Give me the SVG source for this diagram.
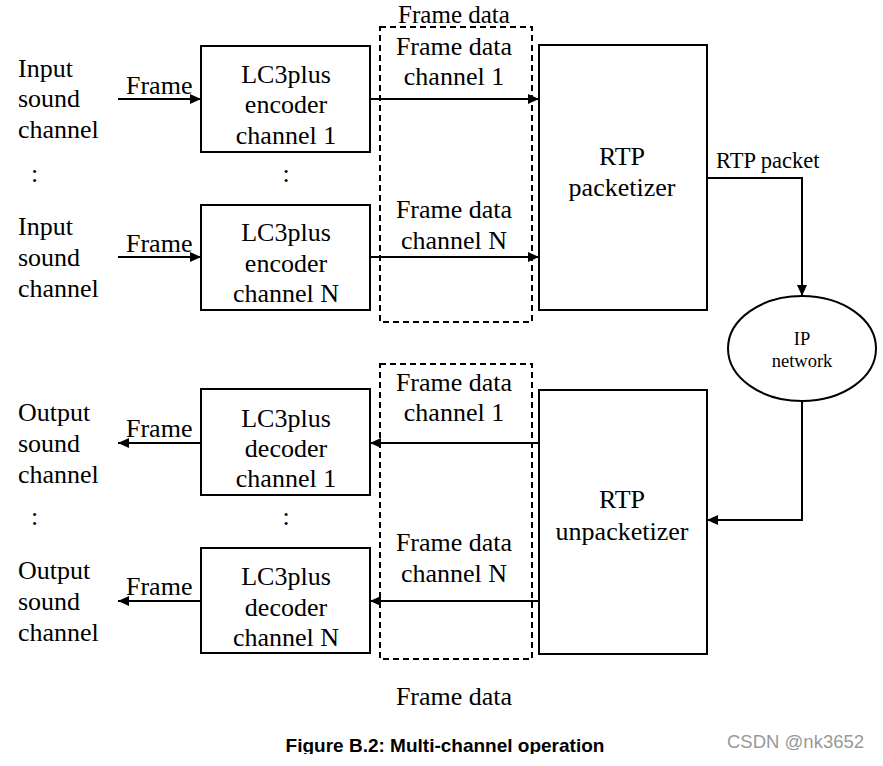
<svg xmlns="http://www.w3.org/2000/svg" width="883" height="766" viewBox="0 0 883 766">
<style>
.t{font-family:"Liberation Serif","Times New Roman",serif;font-size:26px;fill:#000}
.m{text-anchor:middle}
.box{fill:none;stroke:#000;stroke-width:2}
.dash{fill:none;stroke:#000;stroke-width:2;stroke-dasharray:6,4}
.ln{fill:none;stroke:#000;stroke-width:2}
.cap{font-family:"Liberation Sans",Arial,sans-serif;font-size:19px;font-weight:bold;fill:#000}
.wm{font-family:"Liberation Sans",Arial,sans-serif;font-size:18.5px;fill:#999}
</style>
<defs>
<marker id="ah" markerUnits="userSpaceOnUse" markerWidth="12" markerHeight="10" refX="11" refY="5" orient="auto">
<path d="M0,0 L11,5 L0,10 z" fill="#000"/>
</marker>
<clipPath id="capclip"><rect x="0" y="0" width="883" height="754"/></clipPath>
</defs>
<rect width="883" height="766" fill="#fff"/>

<g id="labels-left">
<text class="t" x="18" y="77">Input</text>
<text class="t" x="18" y="107">sound</text>
<text class="t" x="18" y="138">channel</text>
<text class="t" x="31" y="182">:</text>
<text class="t" x="18" y="235">Input</text>
<text class="t" x="18" y="266">sound</text>
<text class="t" x="18" y="297">channel</text>
<text class="t" x="18" y="421">Output</text>
<text class="t" x="18" y="452">sound</text>
<text class="t" x="18" y="483">channel</text>
<text class="t" x="31" y="525">:</text>
<text class="t" x="18" y="579">Output</text>
<text class="t" x="18" y="610">sound</text>
<text class="t" x="18" y="641">channel</text>
<text class="t m" x="286" y="182">:</text>
<text class="t m" x="286" y="525">:</text>
</g>

<g id="enc1">
<rect class="box" x="201" y="46" width="169" height="106"/>
<text class="t m" x="286" y="83">LC3plus</text>
<text class="t m" x="286" y="113">encoder</text>
<text class="t m" x="286" y="144">channel 1</text>
</g>
<g id="encN">
<rect class="box" x="201" y="205" width="169" height="105"/>
<text class="t m" x="286" y="241">LC3plus</text>
<text class="t m" x="286" y="272">encoder</text>
<text class="t m" x="286" y="302">channel N</text>
</g>
<g id="dec1">
<rect class="box" x="201" y="389" width="169" height="106"/>
<text class="t m" x="286" y="427">LC3plus</text>
<text class="t m" x="286" y="457">decoder</text>
<text class="t m" x="286" y="487">channel 1</text>
</g>
<g id="decN">
<rect class="box" x="201" y="548" width="169" height="105"/>
<text class="t m" x="286" y="585">LC3plus</text>
<text class="t m" x="286" y="616">decoder</text>
<text class="t m" x="286" y="646">channel N</text>
</g>

<g id="framedata-top">
<rect class="dash" x="380" y="27" width="152" height="295"/>
<text class="t m" x="454" y="23" style="font-size:25px">Frame data</text>
<text class="t m" x="454" y="55">Frame data</text>
<text class="t m" x="454" y="85">channel 1</text>
<text class="t m" x="454" y="218">Frame data</text>
<text class="t m" x="454" y="249">channel N</text>
</g>
<g id="framedata-bottom">
<rect class="dash" x="380" y="364" width="152" height="295"/>
<text class="t m" x="454" y="391">Frame data</text>
<text class="t m" x="454" y="421">channel 1</text>
<text class="t m" x="454" y="551">Frame data</text>
<text class="t m" x="454" y="582">channel N</text>
<text class="t m" x="454" y="705">Frame data</text>
</g>

<g id="packetizer">
<rect class="box" x="539" y="45" width="168" height="265"/>
<text class="t m" x="622" y="165">RTP</text>
<text class="t m" x="622" y="196">packetizer</text>
</g>
<g id="unpacketizer">
<rect class="box" x="539" y="390" width="168" height="264"/>
<text class="t m" x="622" y="508">RTP</text>
<text class="t m" x="622" y="540">unpacketizer</text>
</g>
<g id="ipnet">
<ellipse class="box" cx="802" cy="348.5" rx="74" ry="52.5"/>
<text class="t m" x="802" y="345" style="font-size:18.5px">IP</text>
<text class="t m" x="802" y="367" style="font-size:18.5px">network</text>
</g>

<g id="connectors">
<line class="ln" x1="118" y1="99" x2="201" y2="99" marker-end="url(#ah)"/>
<line class="ln" x1="118" y1="257" x2="201" y2="257" marker-end="url(#ah)"/>
<line class="ln" x1="370" y1="99" x2="539" y2="99" marker-end="url(#ah)"/>
<line class="ln" x1="370" y1="257" x2="539" y2="257" marker-end="url(#ah)"/>
<polyline class="ln" points="707,178 802,178 802,296" marker-end="url(#ah)"/>
<polyline class="ln" points="802,401 802,520 707,520" marker-end="url(#ah)"/>
<line class="ln" x1="539" y1="443" x2="370" y2="443" marker-end="url(#ah)"/>
<line class="ln" x1="539" y1="601" x2="370" y2="601" marker-end="url(#ah)"/>
<line class="ln" x1="201" y1="443" x2="118" y2="443" marker-end="url(#ah)"/>
<line class="ln" x1="201" y1="601" x2="118" y2="601" marker-end="url(#ah)"/>
<text class="t" x="126" y="94">Frame</text>
<text class="t" x="126" y="252">Frame</text>
<text class="t" x="126" y="437">Frame</text>
<text class="t" x="126" y="595">Frame</text>
<text class="t" x="716" y="168" style="font-size:22.5px">RTP packet</text>
</g>

<g id="caption" clip-path="url(#capclip)">
<text class="cap" x="445" y="752" text-anchor="middle">Figure B.2: Multi-channel operation</text>
</g>
<text class="wm" x="727" y="748">CSDN @nk3652</text>
</svg>
